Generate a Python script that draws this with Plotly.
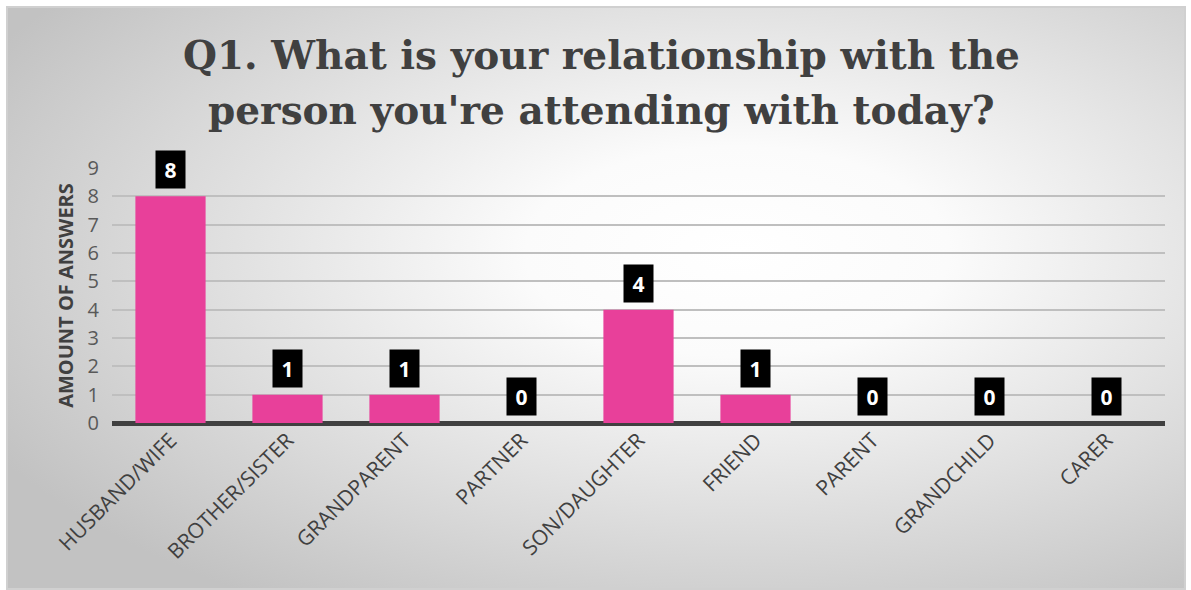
import base64
import plotly.graph_objects as go

categories = ["HUSBAND/WIFE", "BROTHER/SISTER", "GRANDPARENT", "PARTNER",
              "SON/DAUGHTER", "FRIEND", "PARENT", "GRANDCHILD", "CARER"]
answers = [8, 1, 1, 0, 4, 1, 0, 0, 0]
y_ticks = list(range(0, 10))
title_lines = ["Q1. What is your relationship with the",
               "person you're attending with today?"]

W, H = 1191, 590
L, R, T, B = 112, 26, 168, 167
pw, ph = W - L - R, H - T - B

svg = ("<svg xmlns='http://www.w3.org/2000/svg' width='1180' height='584' preserveAspectRatio='none'>"
       "<defs><radialGradient id='g' cx='0.62' cy='0.42' r='0.72'>"
       "<stop offset='0' stop-color='#ffffff'/><stop offset='0.25' stop-color='#fbfbfb'/>"
       "<stop offset='1' stop-color='#c2c2c2'/></radialGradient></defs>"
       "<rect x='1' y='1' width='1178' height='582' fill='url(#g)' stroke='#d0d0d0' stroke-width='2'/></svg>")
src = "data:image/svg+xml;base64," + base64.b64encode(svg.encode()).decode()

fig = go.Figure()
fig.add_trace(go.Bar(
    x=categories, y=answers,
    marker=dict(color="#E8409A", line=dict(width=0)),
    hoverinfo="x+y",
))

for c, v in zip(categories, answers):
    fig.add_annotation(
        x=c, y=v, xref="x", yref="y", text=f"<b>{v}</b>",
        showarrow=False, yanchor="bottom", yshift=7,
        bgcolor="#000000", font=dict(family="Open Sans", size=21, color="#ffffff"),
        borderpad=5, width=19, height=27,
    )

# Title (two lines, placed separately for line spacing)
for i, line in enumerate(title_lines):
    fig.add_annotation(
        text=line, xref="paper", yref="paper",
        x=(601 - L) / pw, y=(H - B - 30 - 55 * i) / ph,
        xanchor="center", yanchor="top", showarrow=False,
        font=dict(family="DejaVu Serif", size=39, color="#404040", weight="bold"),
    )

fig.add_layout_image(dict(
    source=src, xref="paper", yref="paper",
    x=(6 - L) / pw, y=(H - B - 6) / ph,
    sizex=1180 / pw, sizey=584 / ph,
    xanchor="left", yanchor="top", sizing="stretch", layer="below",
))

fig.update_layout(
    width=W, height=H,
    margin=dict(l=L, r=R, t=T, b=B),
    paper_bgcolor="#ffffff", plot_bgcolor="rgba(0,0,0,0)",
    bargap=0.4,
    showlegend=False,
    xaxis=dict(
        tickangle=-45, tickfont=dict(family="Open Sans", size=21, color="#404040"),
        showgrid=False, showline=False, ticks="", zeroline=False,
        automargin=False,
    ),
    yaxis=dict(
        range=[0, 9], tickvals=y_ticks, ticktext=[str(t) for t in y_ticks],
        tickfont=dict(family="Open Sans", size=20, color="#595959"),
        showgrid=True, gridcolor="#bfbfbf", gridwidth=2,
        zeroline=True, zerolinecolor="#404040", zerolinewidth=5,
        ticks="", ticklabelstandoff=12, automargin=False,
        title=dict(text="<b>AMOUNT OF ANSWERS</b>", standoff=8,
                   font=dict(family="Open Sans", size=20, color="#404040")),
    ),
)

fig.write_html("out.html", config={"displayModeBar": False},
               post_script="document.body.style.margin='0';")
